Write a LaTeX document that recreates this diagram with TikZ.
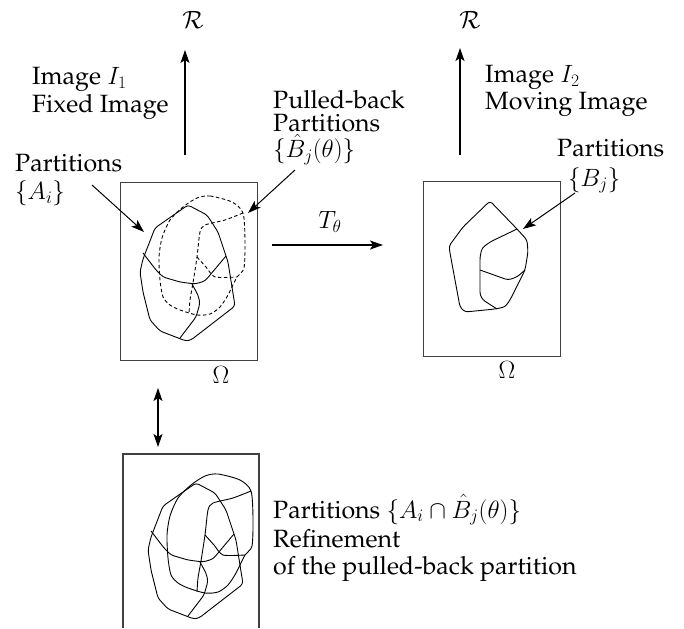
\documentclass[tikz,border=0pt]{standalone}
\usepackage[T1]{fontenc}
\usepackage{fix-cm}
\renewcommand{\rmdefault}{ppl}
\usetikzlibrary{arrows.meta}
\tikzset{headtip/.tip={Stealth[length=13pt,width=9pt,inset=3pt]}}
\newcommand{\partsA}[1]{%
  % solid partition A
  \draw[shp] (188,205) -- (155,228) -- (143,259) -- (140,272) -- (143,292) -- (150,320) -- (160,331) -- (186,341) -- (191,340) -- (235,306) -- (228,262) -- (218,232) -- (207,215) -- cycle;
  \draw[shp] (143,253) -- (156,270) -- (163,277) -- (180,282) -- (195,284) -- (205,281) -- (226,256);
  \draw[shp] (192,284) -- (198,295) -- (200,303) -- (196,317) -- (180,338);
  % pulled-back partition
  \draw[#1] plot[smooth cycle, tension=0.45] coordinates {(197,198) (210,196) (232,202) (243,213) (245,240) (244,268) (237,277) (228,295) (220,307) (210,314) (197,315) (180,310) (170,305) (163,297) (160,280) (159,257) (162,238) (170,220) (183,207)};
  \draw[#1] plot[smooth, tension=0.4] coordinates {(243,213) (225,220) (205,225) (200,232) (197,257) (193,283) (190,300) (189,314)};
  \draw[#1] plot[smooth, tension=0.4] coordinates {(197,257) (206,267) (215,277) (237,277)};
}
\begin{document}
\begin{tikzpicture}[x=1pt,y=-1pt,
  txt/.style={inner sep=0pt, anchor=base west, font=\fontsize{25}{27}\selectfont},
  ctxt/.style={inner sep=0pt, anchor=center, font=\fontsize{25}{27}\selectfont},
  frame/.style={draw=black!75, line width=1.3pt},
  shp/.style={line width=0.9pt, rounded corners=3pt, line join=round},
  dsh/.style={line width=0.9pt, dash pattern=on 3.5pt off 2.5pt},
  sol/.style={line width=0.9pt},
  arr/.style={line width=1.3pt, -{headtip}},
  darr/.style={line width=1.3pt, {headtip}-{headtip}}]
\useasboundingbox (0,0) rectangle (684,628);

% frames
\node[frame, minimum width=137pt, minimum height=178pt, anchor=north west, inner sep=0pt] (box1) at (120,182) {};
\node[frame, minimum width=137pt, minimum height=175pt, anchor=north west, inner sep=0pt] (box2) at (423,181) {};
\coordinate (b3bl) at (123,628);
\coordinate (b3tl) at (123,454);
\coordinate (b3tr) at (259,454);
\coordinate (b3br) at (259,628);
\draw[frame] (b3bl) -- (b3tl) -- (b3tr) -- (b3br);

% shapes
\partsA{dsh}
\begin{scope}[shift={(8,278)}]
\partsA{sol}
\end{scope}
% B_j shape
\draw[shp] (490,201) -- (517,229) -- (527,240) -- (528,252) -- (525,270) -- (510,300) -- (505,307) -- (495,309) -- (465,312) -- (460,307) -- (450,253) -- (449,246) -- (463,227) -- cycle;
\draw[shp] (517,229) -- (490,242) -- (482,248) -- (480,257) -- (480,295) -- (483,300) -- (497,309);
\draw[shp] (480,270) -- (508,280) -- (517,277) -- (525,270);

% R arrows
\node[ctxt] (R1) at (193,20) {$\mathcal{R}$};
\node[ctxt] (R2) at (470,20) {$\mathcal{R}$};
\coordinate (r1s) at (185,155); \coordinate (r1e) at (185,50);
\coordinate (r2s) at (460,155); \coordinate (r2e) at (460,48);
\draw[arr] (r1s) -- (r1e);
\draw[arr] (r2s) -- (r2e);

% labels
\node[txt] (im1) at (32,85) {Image $I_1$};
\node[txt] (fix) at (32,113) {Fixed Image};
\node[txt] (im2) at (485,83) {Image $I_2$};
\node[txt] (mov) at (485,110) {Moving Image};
\node[txt] (pb1) at (273,109) {Pulled-back};
\node[txt] (pb2) at (273,132) {Partitions};
\node[txt] (pb3) at (273,158) {$\{\hat{B}_j(\theta)\}$};
\node[txt] (pa1) at (15,172) {Partitions};
\node[txt] (pa2) at (15,200) {$\{A_i\}$};
\node[txt] (pbj1) at (557,157) {Partitions};
\node[txt] (pbj2) at (568,186) {$\{B_j\}$};
\node[txt] (ref1) at (273,518) {Partitions $\{A_i\cap\hat{B}_j(\theta)\}$};
\node[txt] (ref2) at (273,547) {Refinement};
\node[txt] (ref3) at (273,574) {of the pulled-back partition};
\node[ctxt] (om1) at (221,375) {$\Omega$};
\node[ctxt] (om2) at (507,370) {$\Omega$};
\node[ctxt] (T) at (330,222) {$T_\theta$};

% pointer arrows
\coordinate (aA) at (92,185); \coordinate (aAe) at (144,232);
\coordinate (aB) at (295,170); \coordinate (aBe) at (248,213);
\coordinate (aC) at (575,193); \coordinate (aCe) at (523,229);
\draw[line width=1pt, -{headtip}] (aA) -- (aAe);
\draw[line width=1pt, -{headtip}] (aB) -- (aBe);
\draw[line width=1pt, -{headtip}] (aC) -- (aCe);
\coordinate (ts) at (272,245); \coordinate (te) at (383,245);
\draw[arr] (ts) -- (te);
\coordinate (ds) at (158,388); \coordinate (de) at (158,447);
\draw[darr] (ds) -- (de);
\end{tikzpicture}
\end{document}
